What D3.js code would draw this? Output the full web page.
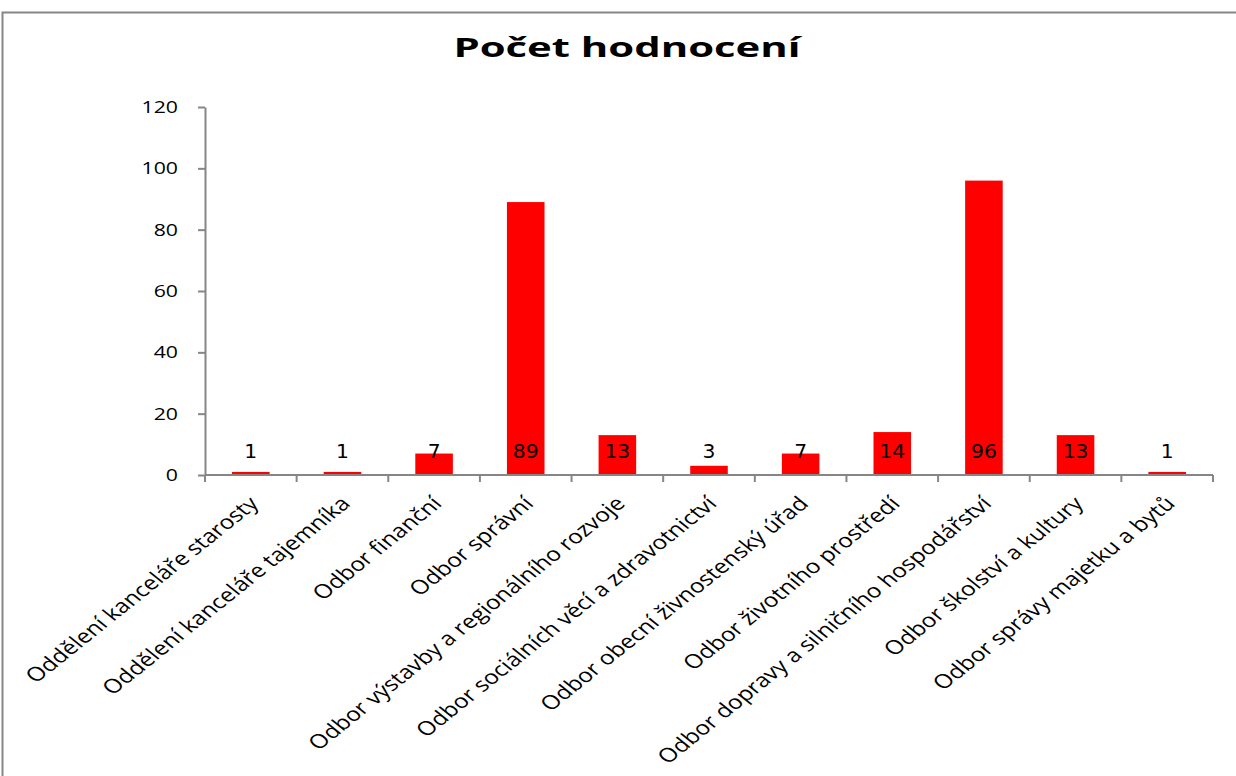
<!DOCTYPE html>
<html>
<head>
<meta charset="utf-8">
<script src="https://cdn.jsdelivr.net/npm/d3@7"></script>
<style>
  body { margin: 0; background: #fff; }
  svg { display: block; }
</style>
</head>
<body>
<div id="chart"></div>
<script>
// data
const categories = [
  "Oddělení kanceláře starosty",
  "Oddělení kanceláře tajemníka",
  "Odbor finanční",
  "Odbor správní",
  "Odbor výstavby a regionálního rozvoje",
  "Odbor sociálních věcí a zdravotnictví",
  "Odbor obecní živnostenský úřad",
  "Odbor životního prostředí",
  "Odbor dopravy a silničního hospodářství",
  "Odbor školství a kultury",
  "Odbor správy majetku a bytů"
];
const values = [1, 1, 7, 89, 13, 3, 7, 14, 96, 13, 1];
const yTicks = [0, 20, 40, 60, 80, 100, 120];
const title = "Počet hodnocení";

const width = 1236, height = 776;
const plotLeft = 205, plotRight = 1213, plotTop = 107, plotBottom = 475;
// the original picture is stretched sideways, so the text is too
const stretch = 1.25;

const svg = d3.select("#chart").append("svg")
  .attr("width", width)
  .attr("height", height);

// outer chart border (runs off the page right and bottom)
svg.append("rect")
  .attr("x", 2.5).attr("y", 12.5)
  .attr("width", 1400).attr("height", 900)
  .attr("fill", "none")
  .attr("stroke", "#868686")
  .attr("stroke-width", 2);

const x = d3.scaleBand()
  .domain(categories)
  .range([plotLeft, plotRight])
  .paddingInner(0.59)
  .paddingOuter(0.295);

const xTick = d3.scaleBand().domain(categories).range([plotLeft, plotRight]);

const y = d3.scaleLinear().domain([0, 120]).range([plotBottom, plotTop]);

// title
svg.append("text")
  .attr("transform", `translate(627,57) scale(1.55,1)`)
  .attr("text-anchor", "middle")
  .style("font-family", "'Open Sans', sans-serif")
  .style("font-weight", "bold")
  .style("font-size", "27px")
  .text(title);

// bars
svg.selectAll(".bar")
  .data(values)
  .join("rect")
  .attr("class", "bar")
  .attr("x", (d, i) => x(categories[i]))
  .attr("width", x.bandwidth())
  .attr("y", d => y(d))
  .attr("height", d => y(0) - y(d))
  .attr("fill", "#ff0000");

// y axis
const yAxis = svg.append("g")
  .attr("transform", `translate(${plotLeft},0)`)
  .call(d3.axisLeft(y).tickValues(yTicks).tickSize(7).tickFormat("").tickSizeOuter(0));
yAxis.select(".domain").attr("stroke", "#868686").attr("stroke-width", 2);
yAxis.selectAll(".tick line").attr("stroke", "#868686").attr("stroke-width", 2);

svg.selectAll(".ylab")
  .data(yTicks)
  .join("text")
  .attr("class", "ylab")
  .attr("transform", d => `translate(178,${y(d) + 6}) scale(${stretch},1)`)
  .attr("text-anchor", "end")
  .style("font-family", "'Open Sans', sans-serif")
  .style("font-size", "17px")
  .text(d => d);

// x axis with ticks at category boundaries
const xAxis = svg.append("g")
  .attr("transform", `translate(0,${plotBottom})`);
xAxis.append("line")
  .attr("x1", plotLeft).attr("x2", plotRight)
  .attr("stroke", "#868686").attr("stroke-width", 2);
const bounds = categories.map(c => xTick(c)).concat([plotRight]);
xAxis.selectAll(".xt")
  .data(bounds)
  .join("line")
  .attr("class", "xt")
  .attr("x1", d => d).attr("x2", d => d)
  .attr("y1", 0).attr("y2", 7)
  .attr("stroke", "#868686").attr("stroke-width", 2);

// category labels rotated -45 (then stretched)
svg.selectAll(".cat")
  .data(categories)
  .join("text")
  .attr("class", "cat")
  .attr("transform", d => `translate(${xTick(d) + xTick.bandwidth() / 2 + 3},${plotBottom + 25}) scale(${stretch},1) rotate(-45)`)
  .attr("text-anchor", "end")
  .attr("dy", "0.35em")
  .style("font-family", "'Open Sans', sans-serif")
  .style("font-size", "19.5px")
  .text(d => d);

// value labels, all at the base
svg.selectAll(".val")
  .data(values)
  .join("text")
  .attr("class", "val")
  .attr("transform", (d, i) => `translate(${x(categories[i]) + x.bandwidth() / 2},458) scale(1.07,1)`)
  .attr("text-anchor", "middle")
  .style("font-family", "'DejaVu Sans', sans-serif")
  .style("font-size", "19px")
  .text(d => d);
</script>
</body>
</html>
